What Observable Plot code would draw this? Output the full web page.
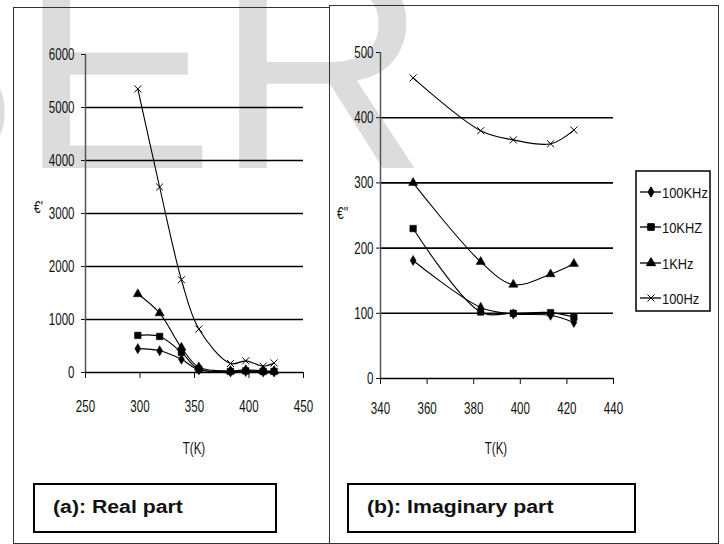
<!DOCTYPE html>
<html><head><meta charset="utf-8">
<script src="https://cdn.jsdelivr.net/npm/d3@7"></script>
<script src="https://cdn.jsdelivr.net/npm/@observablehq/plot@0.6"></script>
<style>
body{margin:0;background:#fff;}
#wrap{position:relative;width:724px;height:544px;overflow:hidden;background:#fff;font-family:"Liberation Sans",Arial,sans-serif;}
.abs{position:absolute;left:0;top:0;}
.frame{position:absolute;box-sizing:border-box;border:1px solid #333;}
.cap{position:absolute;box-sizing:border-box;border:2px solid #000;background:#fff;}
.cap span{position:absolute;left:18px;top:12px;font:bold 18px "Liberation Sans",Arial,sans-serif;transform:scale(1.18,1);transform-origin:left center;white-space:nowrap;color:#111;}
</style></head><body><div id="wrap"></div><script>
// ---- data ----
const seriesNames = ["100KHz", "10KHZ", "1KHz", "100Hz"];
const seriesSymbols = ["diamond", "square", "triangle", "times"];
const seriesRadius = [3.1, 3.7, 3.4, 3.3];

const tempReal = [298, 318, 338, 354, 383, 397, 413, 423];
const real100KHz = [450, 410, 250, 50, 10, 20, 10, 10];
const real10KHz = [700, 680, 380, 60, 20, 30, 20, 20];
const real1KHz = [1480, 1120, 470, 100, 30, 50, 30, 30];
const real100Hz = [5350, 3500, 1750, 820, 170, 220, 120, 180];

const tempImag = [354, 383, 397, 413, 423];
const imag100KHz = [181, 109, 99, 97, 86];
const imag10KHz = [230, 102, 100, 101, 94];
const imag1KHz = [300, 179, 144, 160, 176];
const imag100Hz = [461, 380, 366, 360, 381];

const realTicksX = [250, 300, 350, 400, 450];
const realTicksY = [0, 1000, 2000, 3000, 4000, 5000, 6000];
const realGrid = [1000, 2000, 3000, 4000, 5000];
const imagTicksX = [340, 360, 380, 400, 420, 440];
const imagTicksY = [0, 100, 200, 300, 400, 500];
const imagGrid = [100, 200, 300, 400];

const xLabel = "T(K)";
const realYLabel = "€'";
const imagYLabel = "€''";
const realCaption = "(a): Real part";
const imagCaption = "(b): Imaginary part";
const watermark = "IJSER";

// ---- helpers ----
const wrap = document.getElementById("wrap");
const NS = "http://www.w3.org/2000/svg";

function condense(svg, sx) {
  svg.querySelectorAll("text").forEach(t => {
    const x = +t.getAttribute("x") || 0;
    t.removeAttribute("x");
    const tr = t.getAttribute("transform") || "";
    t.setAttribute("transform", `${tr} translate(${x},0) scale(${sx},1)`);
  });
}

function panel({T, values, xDomain, yDomain, xTicks, yTicks, grid, width, height, margins, xPad, yPad}) {
  const rows = seriesNames.flatMap((s, i) => T.map((t, j) => ({T: t, v: values[i][j], s})));
  const marks = [
    Plot.ruleY(grid, {stroke: "#000", strokeWidth: 1.6}),
    Plot.ruleX([xDomain[0]], {stroke: "#555", strokeWidth: 1.5}),
    Plot.ruleY([yDomain[0]], {stroke: "#000", strokeWidth: 1.6}),
    Plot.line(rows, {x: "T", y: "v", z: "s", curve: "catmull-rom", stroke: "#000", strokeWidth: 1.1}),
    ...seriesNames.map((s, i) => {
      const sym = seriesSymbols[i];
      const filled = sym !== "times";
      return Plot.dot(rows.filter(d => d.s === s), {
        x: "T", y: "v", symbol: sym, r: seriesRadius[i],
        fill: filled ? "#000" : "none", stroke: "#000", strokeWidth: filled ? 0.5 : 1
      });
    })
  ];
  const svg = Plot.plot({
    width, height,
    marginLeft: margins[0], marginRight: margins[1], marginTop: margins[2], marginBottom: margins[3],
    style: {background: "transparent", fontSize: "17px", fontFamily: "'Liberation Sans', Arial, sans-serif", overflow: "visible", color: "#111"},
    x: {domain: xDomain, ticks: xTicks, tickSize: 6, tickPadding: xPad, tickFormat: "d", label: null},
    y: {domain: yDomain, ticks: yTicks, tickSize: 4, tickPadding: yPad, tickFormat: "d", label: null},
    marks
  });
  condense(svg, 0.68);
  return svg;
}

// ---- watermark ----
const wm = document.createElementNS(NS, "svg");
wm.setAttribute("width", 724); wm.setAttribute("height", 544);
wm.setAttribute("class", "abs");
wm.innerHTML = `<text x="-408" y="168" font-family="Liberation Sans, Arial, sans-serif" font-size="295" fill="#dcdcdc">${watermark}</text>`;
wrap.appendChild(wm);

// ---- frames ----
function addDiv(cls, l, t, w, h, html) {
  const d = document.createElement("div");
  d.className = cls;
  Object.assign(d.style, {left: l + "px", top: t + "px", width: w + "px", height: h + "px"});
  if (html) d.innerHTML = html;
  wrap.appendChild(d);
  return d;
}
addDiv("frame", 13, 7, 317, 537);
addDiv("frame", 329, 5, 390, 539);

// ---- plots ----
const left = panel({
  T: tempReal, values: [real100KHz, real10KHz, real1KHz, real100Hz],
  xDomain: [250, 450], yDomain: [0, 6000], xTicks: realTicksX, yTicks: realTicksY, grid: realGrid,
  width: 330, height: 544, margins: [85, 27, 54, 172], xPad: 21, yPad: 7
});
left.setAttribute("class", (left.getAttribute("class") || "") + " abs");
left.style.position = "absolute"; left.style.left = "0px"; left.style.top = "0px";
wrap.appendChild(left);

const right = panel({
  T: tempImag, values: [imag100KHz, imag10KHz, imag1KHz, imag100Hz],
  xDomain: [340, 440], yDomain: [0, 500], xTicks: imagTicksX, yTicks: imagTicksY, grid: imagGrid,
  width: 394, height: 544, margins: [50, 111, 52, 166], xPad: 17, yPad: 3
});
right.style.position = "absolute"; right.style.left = "330px"; right.style.top = "0px";
wrap.appendChild(right);

// ---- overlay: axis titles + legend ----
const ov = document.createElementNS(NS, "svg");
ov.setAttribute("width", 724); ov.setAttribute("height", 544);
ov.setAttribute("class", "abs");
ov.style.position = "absolute";
const F = "font-family=\"Liberation Sans, Arial, sans-serif\" fill=\"#111\"";
let html = "";
html += `<text transform="translate(194,454) scale(0.68,1)" text-anchor="middle" font-size="17" ${F}>${xLabel}</text>`;
html += `<text transform="translate(496,454) scale(0.68,1)" text-anchor="middle" font-size="17" ${F}>${xLabel}</text>`;
html += `<text transform="translate(34,213) scale(0.75,1)" font-size="16" ${F}>${realYLabel}</text>`;
html += `<text transform="translate(337,219) scale(0.75,1)" font-size="16" ${F}>${imagYLabel}</text>`;
// legend
html += `<rect x="636" y="171" width="74" height="140" fill="#fff" stroke="#000" stroke-width="1.5"/>`;
const rowsY = [192, 227, 263, 298];
const d3sym = {diamond: d3.symbolDiamond, square: d3.symbolSquare, triangle: d3.symbolTriangle, times: d3.symbolTimes};
seriesNames.forEach((s, i) => {
  const y = rowsY[i];
  const sym = seriesSymbols[i];
  const size = Math.PI * seriesRadius[i] ** 2;
  const path = d3.symbol(d3sym[sym], size)();
  const filled = sym !== "times";
  html += `<line x1="640" x2="661" y1="${y}" y2="${y}" stroke="#000" stroke-width="1.3"/>`;
  html += `<path transform="translate(651,${y})" d="${path}" fill="${filled ? "#000" : "none"}" stroke="#000" stroke-width="1"/>`;
  html += `<text transform="translate(662,${y + 5.5}) scale(0.86,1)" font-size="15" ${F}>${s}</text>`;
});
ov.innerHTML = html;
wrap.appendChild(ov);

// ---- caption boxes ----
addDiv("cap", 33, 483, 244, 50, `<span>${realCaption}</span>`);
addDiv("cap", 347, 483, 289, 50, `<span>${imagCaption}</span>`);
</script></body></html>
